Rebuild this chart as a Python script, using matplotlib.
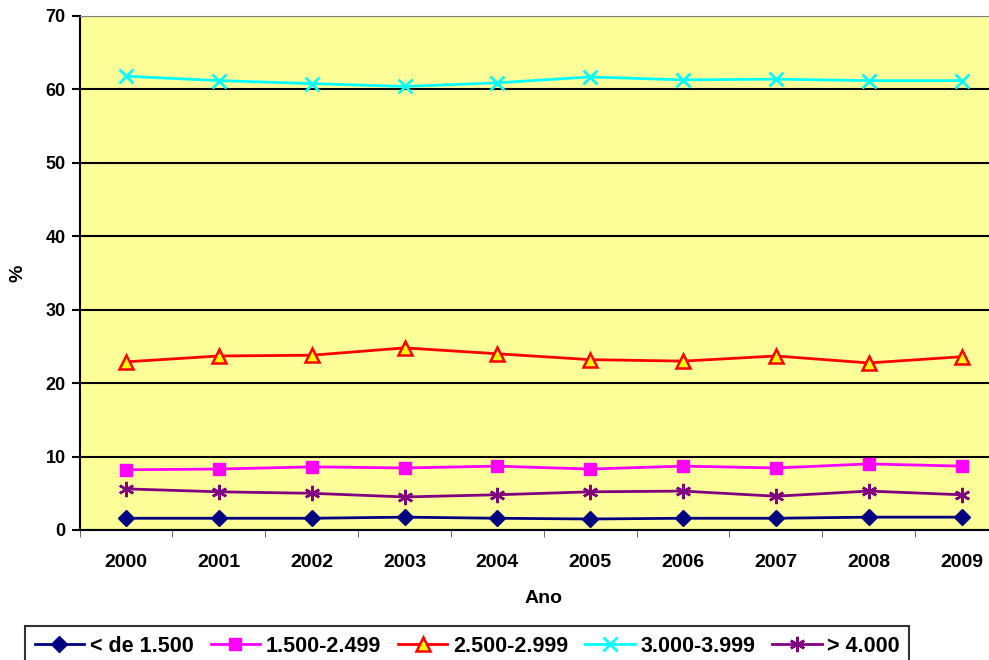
import matplotlib.pyplot as plt
import numpy as np

plt.rcParams['font.family'] = ['Liberation Sans', 'DejaVu Sans']
plt.rcParams['font.weight'] = 'bold'

anos = ['2000', '2001', '2002', '2003', '2004', '2005', '2006', '2007', '2008', '2009']

menos_1500 = [1.6, 1.6, 1.6, 1.75, 1.6, 1.5, 1.6, 1.6, 1.75, 1.75]
de_1500_2499 = [8.2, 8.3, 8.6, 8.45, 8.7, 8.3, 8.7, 8.45, 9.0, 8.7]
de_2500_2999 = [22.9, 23.7, 23.8, 24.8, 24.0, 23.2, 23.0, 23.7, 22.75, 23.6]
de_3000_3999 = [61.8, 61.2, 60.8, 60.4, 60.9, 61.7, 61.3, 61.4, 61.2, 61.2]
mais_4000 = [5.6, 5.2, 5.0, 4.5, 4.8, 5.2, 5.3, 4.6, 5.3, 4.8]

fig = plt.figure(figsize=(9.89, 6.6), dpi=100)
# plot area runs past the right edge of the picture, as in the reference
ax = fig.add_axes([79.6 / 989, 130 / 660, (1008 - 79.6) / 989, 514 / 660])
ax.set_facecolor('#FFFF99')

x = np.arange(len(anos))
ax.plot(x, menos_1500, color='#000080', lw=2, marker='D', ms=8,
        mfc='#000080', mec='#000080', label='< de 1.500')
ax.plot(x, de_1500_2499, color='#FF00FF', lw=2, marker='s', ms=9,
        mfc='#FF00FF', mec='#FF00FF', label='1.500-2.499')
ax.plot(x, de_2500_2999, color='#FF0000', lw=2, marker='^', ms=10,
        mfc='#FFFF00', mec='#FF0000', mew=1.8, label='2.500-2.999')
ax.plot(x, de_3000_3999, color='#00FFFF', lw=2, marker='x', ms=10,
        mew=2, label='3.000-3.999')
ax.plot(x, mais_4000, color='#800080', lw=2, marker=(6, 2, 0), ms=11,
        mew=1.8, label='> 4.000')

ax.set_xlim(-0.5, len(anos) - 0.5)
ax.set_ylim(0, 70)
ax.set_yticks(range(0, 71, 10))
ax.yaxis.grid(True, color='black', lw=1.5)
ax.set_axisbelow(True)

ax.set_xticks(x)
ax.set_xticklabels(anos, fontsize=14, fontweight='bold')
ax.set_xticks(np.arange(-0.5, len(anos), 1), minor=True)
ax.tick_params(axis='x', which='major', length=0, pad=17)
ax.tick_params(axis='x', which='minor', length=5, direction='out', color='#555555')
ax.tick_params(axis='y', length=6, width=1.5, direction='out', labelsize=13, pad=4)
for lbl in ax.get_yticklabels():
    lbl.set_fontweight('bold')

ax.spines['left'].set_linewidth(1.5)
ax.spines['bottom'].set_linewidth(1.5)
ax.spines['top'].set_color('#808080')
ax.spines['right'].set_visible(False)

ax.set_xlabel('Ano', fontsize=14, fontweight='bold', labelpad=14)
ax.set_ylabel('%', fontsize=14, fontweight='bold', labelpad=14)

leg = fig.legend(loc='upper left', bbox_to_anchor=(25 / 989, 1 - 626 / 660),
                 ncol=5, frameon=True, fancybox=False, edgecolor='black',
                 fontsize=15.5, handlelength=2.3, handletextpad=0.25,
                 columnspacing=0.8, borderpad=0.45, borderaxespad=0)
leg.get_frame().set_linewidth(1.5)

fig.savefig('out.png', dpi=100)
